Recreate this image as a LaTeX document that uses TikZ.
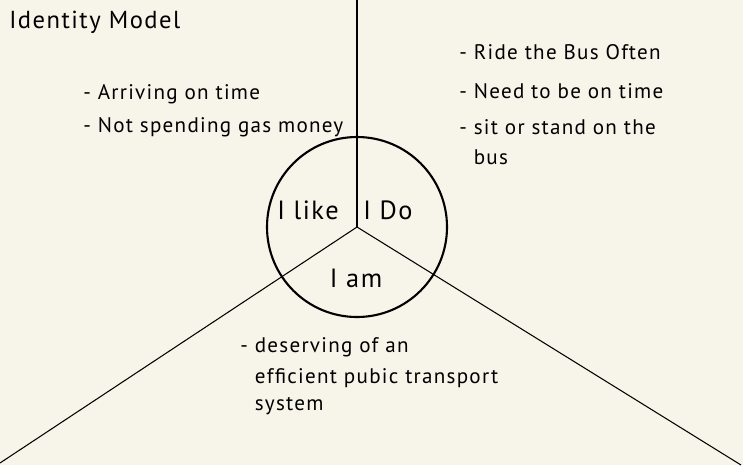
\documentclass[tikz,border=0pt]{standalone}
\usepackage{fontspec}
\setmainfont{PT Sans}[LetterSpace=6]
\usetikzlibrary{positioning}
\definecolor{paper}{RGB}{247,245,234}

\begin{document}
\begin{tikzpicture}[
    x=0.2mm, y=-0.2mm,
    font=\fontsize{12}{14}\selectfont,
    divider/.style={
        draw=black,
        line width=0.6pt
    },
    hubring/.style={
        circle,
        draw=black,
        line width=1.2pt,
        minimum size=36mm,
        inner sep=0pt
    },
    sectorlabel/.style={
        font=\fontsize{15}{17}\selectfont
    },
    notes/.style={
        anchor=north west,
        align=left,
        inner sep=0pt
    },
    titletext/.style={
        anchor=west,
        inner sep=0pt,
        font=\fontsize{14}{16}\selectfont
    }
]

% --- Paper ------------------------------------------------------------------
\fill[paper] (0,0) rectangle (743,465);
\useasboundingbox (0,0) rectangle (743,465);

% --- Hub and the three dividers ---------------------------------------------
\coordinate (hubcentre) at (357,227);
\coordinate (topend)    at (357,0);
\coordinate (leftend)   at (0,463);
\coordinate (rightend)  at (741,465);

\node[hubring] (hub) at (hubcentre) {};

\draw[divider] (hubcentre) -- (topend);
\draw[divider] (hubcentre) -- (leftend);
\draw[divider] (hubcentre) -- (rightend);

% --- Sector labels ----------------------------------------------------------
\node[sectorlabel] (ilike) at (308,210) {I like};
\node[sectorlabel] (ido)   at (388,210) {I Do};
\node[sectorlabel] (iam)   at (356,278) {I am};

% --- Title ------------------------------------------------------------------
\node[titletext] (title) at (9,22) {Identity Model};

% --- Notes for each sector --------------------------------------------------
\node[notes] (likenotes) at (83,84)
    {- Arriving on time\\[5pt]
     - Not spending gas money};

\node[notes] (donotes) at (459,44)
    {- Ride the Bus Often\\[8pt]
     - Need to be on time\\[7pt]
     - sit or stand on the\\[3pt]
     \hphantom{- }bus};

\node[notes] (amnotes) at (240,337)
    {- deserving of an\\[4pt]
     \hphantom{- }efficient pubic transport\\[1pt]
     \hphantom{- }system};

\end{tikzpicture}
\end{document}
